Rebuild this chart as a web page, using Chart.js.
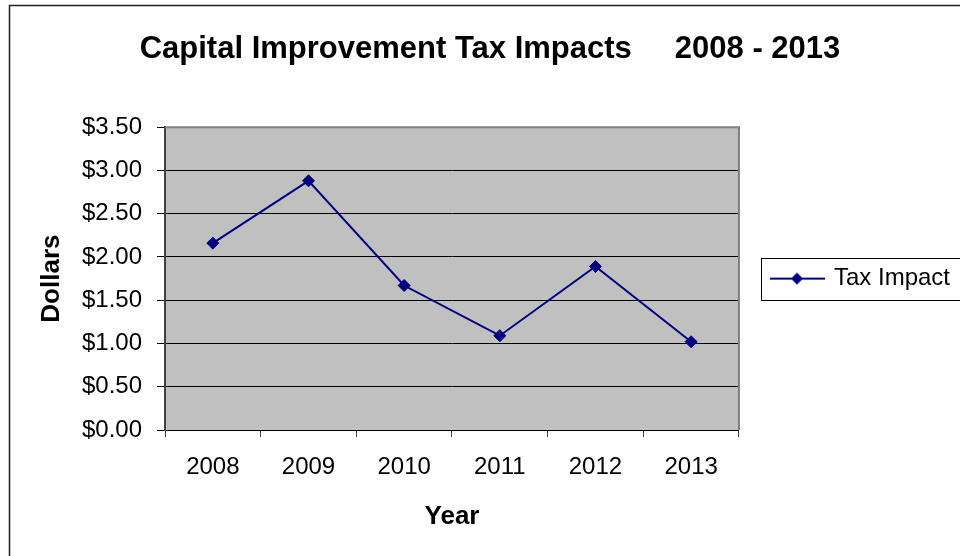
<!DOCTYPE html>
<html>
<head>
<meta charset="utf-8">
<script src="https://cdn.jsdelivr.net/npm/chart.js@4.4.0/dist/chart.umd.min.js"></script>
<style>
html, body { margin: 0; padding: 0; background: #fff; }
</style>
</head>
<body>
<canvas id="taxChart" width="960" height="556"></canvas>
<script>
const years = ["2008", "2009", "2010", "2011", "2012", "2013"];
const tax_impact = [2.16, 2.88, 1.67, 1.09, 1.89, 1.02];
const y_ticks = [0, 0.5, 1, 1.5, 2, 2.5, 3, 3.5];

const FONT = "'Liberation Sans', Arial, sans-serif";
const NAVY = "#000080";

// line + diamond swatch for the legend, like the excel one
function legend_marker()
{
    const c = document.createElement("canvas");
    c.width = 64;
    c.height = 14;
    const g = c.getContext("2d");
    g.strokeStyle = NAVY;
    g.lineWidth = 2;
    g.beginPath();
    g.moveTo(7, 7);
    g.lineTo(62, 7);
    g.stroke();
    g.fillStyle = NAVY;
    g.beginPath();
    g.moveTo(34, 1);
    g.lineTo(40, 7);
    g.lineTo(34, 13);
    g.lineTo(28, 7);
    g.closePath();
    g.fill();
    return c;
}

const frame = {
    id: "frame",
    beforeDraw(chart) {
        const {ctx, chartArea: a} = chart;
        ctx.save();
        ctx.fillStyle = "#fff";
        ctx.fillRect(0, 0, chart.width, chart.height);
        ctx.fillStyle = "#C0C0C0";
        ctx.fillRect(a.left, a.top, a.right - a.left, a.bottom - a.top);
        ctx.restore();
    },
    beforeDatasetsDraw(chart) {
        const {ctx, chartArea: a} = chart;
        ctx.save();
        ctx.strokeStyle = "#808080";
        ctx.lineWidth = 2;
        ctx.beginPath();
        ctx.moveTo(a.left, a.top);
        ctx.lineTo(a.right, a.top);
        ctx.lineTo(a.right, a.bottom);
        ctx.stroke();
        ctx.restore();
    },
    afterDraw(chart) {
        const ctx = chart.ctx;
        const lg = chart.legend;
        ctx.save();
        // outer chart border (right and bottom run off the picture)
        ctx.strokeStyle = "#222";
        ctx.lineWidth = 1.5;
        ctx.strokeRect(9.5, 5.5, 1000, 600);
        // legend box
        const mid = (lg.top + lg.bottom) / 2;
        ctx.lineWidth = 1;
        ctx.strokeStyle = "#000";
        ctx.strokeRect(Math.round(lg.left + 22) + 0.5, Math.round(mid - 21) + 0.5, 300, 42);
        ctx.restore();
    }
};

const ctx = document.getElementById("taxChart").getContext("2d");

const taxChart = new Chart(ctx, {
    type: "line",
    data: {
        labels: years,
        datasets: [{
            label: "Tax Impact",
            data: tax_impact,
            borderColor: NAVY,
            backgroundColor: NAVY,
            borderWidth: 2,
            pointStyle: "rectRot",
            pointRadius: 6,
            pointBorderWidth: 1,
            tension: 0
        }]
    },
    options: {
        responsive: false,
        animation: false,
        devicePixelRatio: 1,
        layout: {
            padding: { left: 20, right: 0, top: 0, bottom: 0 }
        },
        plugins: {
            title: {
                display: true,
                text: "Capital Improvement Tax Impacts     2008 - 2013",
                color: "#000",
                font: { family: FONT, size: 31, weight: "bold" },
                padding: { top: 31, bottom: 59 }
            },
            legend: {
                position: "right",
                fullSize: false,
                maxWidth: 222,
                labels: {
                    usePointStyle: true,
                    pointStyle: legend_marker(),
                    pointStyleWidth: 54,
                    padding: 29,
                    color: "#000",
                    font: { family: FONT, size: 24 }
                }
            },
            tooltip: { enabled: false }
        },
        scales: {
            x: {
                offset: true,
                grid: {
                    offset: true,
                    drawOnChartArea: false,
                    tickLength: 7,
                    color: "#404040"
                },
                border: { color: "#000", width: 1 },
                ticks: {
                    color: "#000",
                    padding: 16,
                    font: { family: FONT, size: 24 }
                },
                title: {
                    display: true,
                    text: "Year",
                    color: "#000",
                    font: { family: FONT, size: 26, weight: "bold" },
                    padding: { top: 0, bottom: 24 }
                },
                afterFit: (scale) => { scale.height = 126; }
            },
            y: {
                min: y_ticks[0],
                max: y_ticks[y_ticks.length - 1],
                afterBuildTicks: (axis) => {
                    axis.ticks = y_ticks.map(v => ({ value: v }));
                },
                grid: { color: "#000", tickLength: 8 },
                border: { color: "#404040", width: 2 },
                ticks: {
                    color: "#000",
                    padding: 15,
                    font: { family: FONT, size: 24 },
                    callback: (v) => "$" + Number(v).toFixed(2)
                },
                title: {
                    display: true,
                    text: "Dollars",
                    color: "#000",
                    font: { family: FONT, size: 26, weight: "bold" },
                    padding: { top: 16, bottom: 0 }
                },
                afterFit: (scale) => { scale.width = 145; }
            }
        }
    },
    plugins: [frame]
});
</script>
</body>
</html>
